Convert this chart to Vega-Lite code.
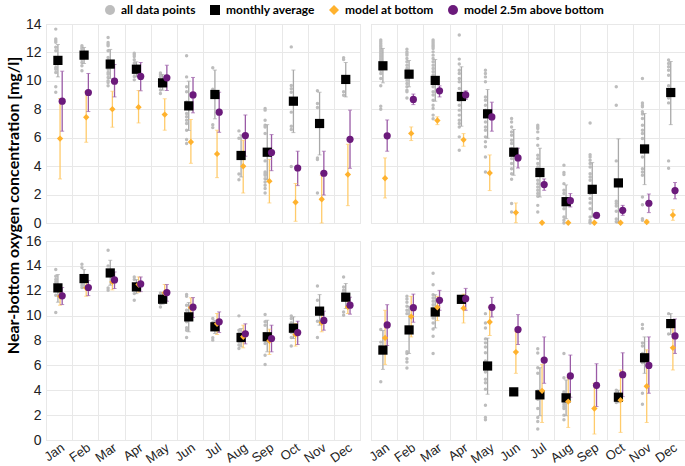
{
"$schema":"https://vega.github.io/schema/vega-lite/v6.json",
"padding":{"left":4,"top":4,"right":2,"bottom":0},
"background":"#ffffff",
"bounds":"flush",
"columns":2,
"spacing":{"row":18,"column":11},
"config":{
 "font":"Liberation Sans",
 "view":{"stroke":"#d6d6d6","strokeWidth":1},
 "axis":{"gridColor":"#e8e8e8","gridWidth":1,"ticks":false,"domain":false,"labelColor":"#222222","labelFontSize":14,"labelFont":"Liberation Sans"},
 "legend":{"orient":"none","legendX":58,"legendY":-20,"direction":"horizontal","labelFont":"Lato","labelFontWeight":"bold","labelFontSize":12,"labelColor":"#000000","columnPadding":13,"labelOffset":5,"symbolStrokeWidth":0}
},
"datasets":{
"g":[
{"p":"a","m":"Jan","v":13.64},{"p":"a","m":"Jan","v":12.94},{"p":"a","m":"Jan","v":12.82},{"p":"a","m":"Jan","v":12.71},{"p":"a","m":"Jan","v":12.36},{"p":"a","m":"Jan","v":12.12},{"p":"a","m":"Jan","v":11.65},{"p":"a","m":"Jan","v":11.29},{"p":"a","m":"Jan","v":11.18},{"p":"a","m":"Jan","v":10.94},{"p":"a","m":"Jan","v":10.82},{"p":"a","m":"Jan","v":10.59},{"p":"a","m":"Jan","v":9.58},{"p":"a","m":"Jan","v":9.2},
{"p":"a","m":"Feb","v":12.47},{"p":"a","m":"Feb","v":12.35},{"p":"a","m":"Feb","v":12.24},{"p":"a","m":"Feb","v":11.52},{"p":"a","m":"Feb","v":11.29},{"p":"a","m":"Feb","v":11.06},{"p":"a","m":"Feb","v":10.71},
{"p":"a","m":"Mar","v":13.05},{"p":"a","m":"Mar","v":12.7},{"p":"a","m":"Mar","v":12.58},{"p":"a","m":"Mar","v":12.47},{"p":"a","m":"Mar","v":12.12},{"p":"a","m":"Mar","v":11.65},{"p":"a","m":"Mar","v":11.41},{"p":"a","m":"Mar","v":10.82},{"p":"a","m":"Mar","v":10.59},{"p":"a","m":"Mar","v":10.47},{"p":"a","m":"Mar","v":10.24},{"p":"a","m":"Mar","v":10.0},{"p":"a","m":"Mar","v":9.88},{"p":"a","m":"Mar","v":9.65},
{"p":"a","m":"Apr","v":11.95},{"p":"a","m":"Apr","v":11.83},{"p":"a","m":"Apr","v":11.71},{"p":"a","m":"Apr","v":11.48},{"p":"a","m":"Apr","v":11.25},{"p":"a","m":"Apr","v":11.01},{"p":"a","m":"Apr","v":10.55},{"p":"a","m":"Apr","v":10.31},{"p":"a","m":"Apr","v":10.07},
{"p":"a","m":"May","v":10.55},{"p":"a","m":"May","v":10.43},{"p":"a","m":"May","v":10.31},{"p":"a","m":"May","v":9.84},{"p":"a","m":"May","v":9.61},{"p":"a","m":"May","v":9.35},{"p":"a","m":"May","v":9.11},
{"p":"a","m":"Jun","v":11.76},{"p":"a","m":"Jun","v":10.28},{"p":"a","m":"Jun","v":9.58},{"p":"a","m":"Jun","v":9.23},{"p":"a","m":"Jun","v":8.52},{"p":"a","m":"Jun","v":7.7},{"p":"a","m":"Jun","v":7.47},{"p":"a","m":"Jun","v":7.23},{"p":"a","m":"Jun","v":7.0},{"p":"a","m":"Jun","v":6.53},{"p":"a","m":"Jun","v":5.87},{"p":"a","m":"Jun","v":5.59},
{"p":"a","m":"Jul","v":10.92},{"p":"a","m":"Jul","v":9.41},{"p":"a","m":"Jul","v":6.92},{"p":"a","m":"Jul","v":6.71},
{"p":"a","m":"Aug","v":6.48},{"p":"a","m":"Aug","v":5.96},{"p":"a","m":"Aug","v":3.45},{"p":"a","m":"Aug","v":3.05},
{"p":"a","m":"Sep","v":8.05},{"p":"a","m":"Sep","v":7.94},{"p":"a","m":"Sep","v":7.23},{"p":"a","m":"Sep","v":6.88},{"p":"a","m":"Sep","v":6.76},{"p":"a","m":"Sep","v":6.29},{"p":"a","m":"Sep","v":4.37},{"p":"a","m":"Sep","v":3.59},{"p":"a","m":"Sep","v":3.47},{"p":"a","m":"Sep","v":3.36},{"p":"a","m":"Sep","v":3.12},{"p":"a","m":"Sep","v":2.89},{"p":"a","m":"Sep","v":2.65},{"p":"a","m":"Sep","v":2.42},{"p":"a","m":"Sep","v":2.11},
{"p":"a","m":"Oct","v":12.39},{"p":"a","m":"Oct","v":9.67},{"p":"a","m":"Oct","v":9.44},{"p":"a","m":"Oct","v":9.2},{"p":"a","m":"Oct","v":7.8},{"p":"a","m":"Oct","v":6.81},{"p":"a","m":"Oct","v":6.58},{"p":"a","m":"Oct","v":3.97},
{"p":"a","m":"Nov","v":9.3},{"p":"a","m":"Nov","v":8.41},{"p":"a","m":"Nov","v":8.13},{"p":"a","m":"Nov","v":7.16},{"p":"a","m":"Nov","v":4.58},{"p":"a","m":"Nov","v":4.46},{"p":"a","m":"Nov","v":2.11},
{"p":"a","m":"Dec","v":11.62},{"p":"a","m":"Dec","v":11.5},{"p":"a","m":"Dec","v":9.23},{"p":"a","m":"Dec","v":8.99},
{"p":"b","m":"Jan","v":12.87},{"p":"b","m":"Jan","v":12.75},{"p":"b","m":"Jan","v":12.63},{"p":"b","m":"Jan","v":12.51},{"p":"b","m":"Jan","v":12.4},{"p":"b","m":"Jan","v":12.28},{"p":"b","m":"Jan","v":12.16},{"p":"b","m":"Jan","v":12.04},{"p":"b","m":"Jan","v":11.93},{"p":"b","m":"Jan","v":11.81},{"p":"b","m":"Jan","v":11.69},{"p":"b","m":"Jan","v":11.57},{"p":"b","m":"Jan","v":11.46},{"p":"b","m":"Jan","v":11.34},{"p":"b","m":"Jan","v":11.22},{"p":"b","m":"Jan","v":10.99},{"p":"b","m":"Jan","v":10.87},{"p":"b","m":"Jan","v":10.75},{"p":"b","m":"Jan","v":10.52},{"p":"b","m":"Jan","v":10.17},{"p":"b","m":"Jan","v":9.65},{"p":"b","m":"Jan","v":8.22},{"p":"b","m":"Jan","v":8.0},
{"p":"b","m":"Feb","v":12.23},{"p":"b","m":"Feb","v":12.04},{"p":"b","m":"Feb","v":11.93},{"p":"b","m":"Feb","v":11.81},{"p":"b","m":"Feb","v":11.57},{"p":"b","m":"Feb","v":11.34},{"p":"b","m":"Feb","v":11.1},{"p":"b","m":"Feb","v":10.87},{"p":"b","m":"Feb","v":10.75},{"p":"b","m":"Feb","v":10.52},{"p":"b","m":"Feb","v":10.28},{"p":"b","m":"Feb","v":10.05},{"p":"b","m":"Feb","v":9.81},{"p":"b","m":"Feb","v":9.58},{"p":"b","m":"Feb","v":9.34},{"p":"b","m":"Feb","v":9.23},{"p":"b","m":"Feb","v":8.8},
{"p":"b","m":"Mar","v":12.87},{"p":"b","m":"Mar","v":12.75},{"p":"b","m":"Mar","v":12.63},{"p":"b","m":"Mar","v":12.51},{"p":"b","m":"Mar","v":12.4},{"p":"b","m":"Mar","v":12.28},{"p":"b","m":"Mar","v":12.04},{"p":"b","m":"Mar","v":11.81},{"p":"b","m":"Mar","v":11.57},{"p":"b","m":"Mar","v":11.34},{"p":"b","m":"Mar","v":11.1},{"p":"b","m":"Mar","v":10.87},{"p":"b","m":"Mar","v":10.64},{"p":"b","m":"Mar","v":10.41},{"p":"b","m":"Mar","v":10.17},{"p":"b","m":"Mar","v":9.94},{"p":"b","m":"Mar","v":9.58},{"p":"b","m":"Mar","v":9.23},{"p":"b","m":"Mar","v":9.0},{"p":"b","m":"Mar","v":8.64},{"p":"b","m":"Mar","v":8.29},{"p":"b","m":"Mar","v":8.06},{"p":"b","m":"Mar","v":7.59},{"p":"b","m":"Mar","v":7.33},
{"p":"b","m":"Apr","v":13.22},{"p":"b","m":"Apr","v":11.53},{"p":"b","m":"Apr","v":11.18},{"p":"b","m":"Apr","v":10.75},{"p":"b","m":"Apr","v":10.52},{"p":"b","m":"Apr","v":10.17},{"p":"b","m":"Apr","v":9.94},{"p":"b","m":"Apr","v":9.46},{"p":"b","m":"Apr","v":9.11},{"p":"b","m":"Apr","v":8.64},{"p":"b","m":"Apr","v":8.29},{"p":"b","m":"Apr","v":7.94},{"p":"b","m":"Apr","v":7.59},{"p":"b","m":"Apr","v":7.23},{"p":"b","m":"Apr","v":7.0},{"p":"b","m":"Apr","v":6.76},{"p":"b","m":"Apr","v":6.06},{"p":"b","m":"Apr","v":5.12},
{"p":"b","m":"May","v":10.75},{"p":"b","m":"May","v":10.52},{"p":"b","m":"May","v":10.28},{"p":"b","m":"May","v":9.94},{"p":"b","m":"May","v":8.87},{"p":"b","m":"May","v":8.64},{"p":"b","m":"May","v":8.29},{"p":"b","m":"May","v":7.94},{"p":"b","m":"May","v":7.47},{"p":"b","m":"May","v":7.11},{"p":"b","m":"May","v":6.76},{"p":"b","m":"May","v":6.53},{"p":"b","m":"May","v":6.06},{"p":"b","m":"May","v":5.71},{"p":"b","m":"May","v":5.36},{"p":"b","m":"May","v":4.65},{"p":"b","m":"May","v":3.59},
{"p":"b","m":"Jun","v":7.35},{"p":"b","m":"Jun","v":7.11},{"p":"b","m":"Jun","v":6.76},{"p":"b","m":"Jun","v":6.41},{"p":"b","m":"Jun","v":6.17},{"p":"b","m":"Jun","v":5.82},{"p":"b","m":"Jun","v":5.59},{"p":"b","m":"Jun","v":5.24},{"p":"b","m":"Jun","v":4.88},{"p":"b","m":"Jun","v":4.53},{"p":"b","m":"Jun","v":4.18},{"p":"b","m":"Jun","v":3.82},{"p":"b","m":"Jun","v":3.47},{"p":"b","m":"Jun","v":3.08},{"p":"b","m":"Jun","v":1.37},{"p":"b","m":"Jun","v":0.78},
{"p":"b","m":"Jul","v":6.88},{"p":"b","m":"Jul","v":6.76},{"p":"b","m":"Jul","v":6.65},{"p":"b","m":"Jul","v":6.41},{"p":"b","m":"Jul","v":5.94},{"p":"b","m":"Jul","v":5.47},{"p":"b","m":"Jul","v":4.77},{"p":"b","m":"Jul","v":4.53},{"p":"b","m":"Jul","v":4.18},{"p":"b","m":"Jul","v":3.94},{"p":"b","m":"Jul","v":3.71},{"p":"b","m":"Jul","v":3.36},{"p":"b","m":"Jul","v":3.0},{"p":"b","m":"Jul","v":2.77},{"p":"b","m":"Jul","v":2.54},{"p":"b","m":"Jul","v":2.3},{"p":"b","m":"Jul","v":2.07},{"p":"b","m":"Jul","v":1.88},{"p":"b","m":"Jul","v":1.24},{"p":"b","m":"Jul","v":0.78},
{"p":"b","m":"Aug","v":4.06},{"p":"b","m":"Aug","v":3.55},{"p":"b","m":"Aug","v":3.41},{"p":"b","m":"Aug","v":2.77},{"p":"b","m":"Aug","v":2.3},{"p":"b","m":"Aug","v":2.07},{"p":"b","m":"Aug","v":1.72},{"p":"b","m":"Aug","v":1.48},{"p":"b","m":"Aug","v":1.24},{"p":"b","m":"Aug","v":1.01},{"p":"b","m":"Aug","v":0.42},{"p":"b","m":"Aug","v":0.19},{"p":"b","m":"Aug","v":0.0},
{"p":"b","m":"Sep","v":7.04},{"p":"b","m":"Sep","v":4.81},{"p":"b","m":"Sep","v":4.65},{"p":"b","m":"Sep","v":4.41},{"p":"b","m":"Sep","v":4.18},{"p":"b","m":"Sep","v":3.94},{"p":"b","m":"Sep","v":3.47},{"p":"b","m":"Sep","v":3.24},{"p":"b","m":"Sep","v":3.0},{"p":"b","m":"Sep","v":2.07},{"p":"b","m":"Sep","v":1.72},{"p":"b","m":"Sep","v":1.41},{"p":"b","m":"Sep","v":1.01},{"p":"b","m":"Sep","v":0.42},{"p":"b","m":"Sep","v":0.19},{"p":"b","m":"Sep","v":0.07},{"p":"b","m":"Sep","v":0.0},
{"p":"b","m":"Oct","v":9.58},{"p":"b","m":"Oct","v":8.29},{"p":"b","m":"Oct","v":4.37},{"p":"b","m":"Oct","v":1.53},{"p":"b","m":"Oct","v":1.37},{"p":"b","m":"Oct","v":1.2},{"p":"b","m":"Oct","v":0.83},{"p":"b","m":"Oct","v":0.28},{"p":"b","m":"Oct","v":0.09},
{"p":"b","m":"Nov","v":10.17},{"p":"b","m":"Nov","v":8.45},{"p":"b","m":"Nov","v":8.29},{"p":"b","m":"Nov","v":8.17},{"p":"b","m":"Nov","v":7.82},{"p":"b","m":"Nov","v":7.66},{"p":"b","m":"Nov","v":7.35},{"p":"b","m":"Nov","v":6.88},{"p":"b","m":"Nov","v":6.53},{"p":"b","m":"Nov","v":6.29},{"p":"b","m":"Nov","v":5.94},{"p":"b","m":"Nov","v":5.36},{"p":"b","m":"Nov","v":5.0},{"p":"b","m":"Nov","v":4.65},{"p":"b","m":"Nov","v":3.82},{"p":"b","m":"Nov","v":3.59},{"p":"b","m":"Nov","v":3.36},{"p":"b","m":"Nov","v":1.83},{"p":"b","m":"Nov","v":1.29},{"p":"b","m":"Nov","v":0.3},{"p":"b","m":"Nov","v":0.19},
{"p":"b","m":"Dec","v":11.46},{"p":"b","m":"Dec","v":11.22},{"p":"b","m":"Dec","v":10.99},{"p":"b","m":"Dec","v":10.75},{"p":"b","m":"Dec","v":10.4},{"p":"b","m":"Dec","v":9.65},{"p":"b","m":"Dec","v":8.8},{"p":"b","m":"Dec","v":8.45},{"p":"b","m":"Dec","v":4.37},{"p":"b","m":"Dec","v":3.85},
{"p":"c","m":"Jan","v":13.7},{"p":"c","m":"Jan","v":13.17},{"p":"c","m":"Jan","v":12.9},{"p":"c","m":"Jan","v":12.71},{"p":"c","m":"Jan","v":12.04},{"p":"c","m":"Jan","v":11.64},{"p":"c","m":"Jan","v":10.25},
{"p":"c","m":"Feb","v":14.13},{"p":"c","m":"Feb","v":13.86},{"p":"c","m":"Feb","v":12.66},{"p":"c","m":"Feb","v":12.44},{"p":"c","m":"Feb","v":12.26},
{"p":"c","m":"Mar","v":15.25},{"p":"c","m":"Mar","v":14.0},{"p":"c","m":"Mar","v":13.62},{"p":"c","m":"Mar","v":12.23},{"p":"c","m":"Mar","v":12.04},
{"p":"c","m":"Apr","v":13.11},{"p":"c","m":"Apr","v":12.9},{"p":"c","m":"Apr","v":12.36},{"p":"c","m":"Apr","v":11.77},{"p":"c","m":"Apr","v":11.24},
{"p":"c","m":"May","v":11.83},{"p":"c","m":"May","v":11.56},{"p":"c","m":"May","v":11.24},{"p":"c","m":"May","v":10.97},{"p":"c","m":"May","v":10.7},
{"p":"c","m":"Jun","v":11.69},{"p":"c","m":"Jun","v":11.56},{"p":"c","m":"Jun","v":10.84},{"p":"c","m":"Jun","v":10.44},{"p":"c","m":"Jun","v":9.69},{"p":"c","m":"Jun","v":9.5},{"p":"c","m":"Jun","v":9.02},{"p":"c","m":"Jun","v":8.83},{"p":"c","m":"Jun","v":8.24},
{"p":"c","m":"Jul","v":9.77},{"p":"c","m":"Jul","v":9.45},{"p":"c","m":"Jul","v":8.96},{"p":"c","m":"Jul","v":8.22},{"p":"c","m":"Jul","v":8.03},
{"p":"c","m":"Aug","v":9.98},{"p":"c","m":"Aug","v":8.83},{"p":"c","m":"Aug","v":8.56},{"p":"c","m":"Aug","v":7.89},{"p":"c","m":"Aug","v":7.63},{"p":"c","m":"Aug","v":7.36},
{"p":"c","m":"Sep","v":10.09},{"p":"c","m":"Sep","v":9.5},{"p":"c","m":"Sep","v":9.23},{"p":"c","m":"Sep","v":8.56},{"p":"c","m":"Sep","v":8.03},{"p":"c","m":"Sep","v":7.76},{"p":"c","m":"Sep","v":6.82},{"p":"c","m":"Sep","v":6.07},
{"p":"c","m":"Oct","v":9.98},{"p":"c","m":"Oct","v":9.77},{"p":"c","m":"Oct","v":9.42},{"p":"c","m":"Oct","v":8.96},{"p":"c","m":"Oct","v":8.64},{"p":"c","m":"Oct","v":8.24},{"p":"c","m":"Oct","v":7.55},
{"p":"c","m":"Nov","v":12.39},{"p":"c","m":"Nov","v":11.24},{"p":"c","m":"Nov","v":9.55},{"p":"c","m":"Nov","v":8.24},
{"p":"c","m":"Dec","v":13.11},{"p":"c","m":"Dec","v":12.31},{"p":"c","m":"Dec","v":12.04},{"p":"c","m":"Dec","v":11.91},{"p":"c","m":"Dec","v":10.3},{"p":"c","m":"Dec","v":10.03},
{"p":"d","m":"Jan","v":8.88},{"p":"d","m":"Jan","v":7.87},{"p":"d","m":"Jan","v":7.55},{"p":"d","m":"Jan","v":4.69},
{"p":"d","m":"Feb","v":11.55},{"p":"d","m":"Feb","v":11.33},{"p":"d","m":"Feb","v":11.07},{"p":"d","m":"Feb","v":10.75},{"p":"d","m":"Feb","v":10.43},{"p":"d","m":"Feb","v":10.16},{"p":"d","m":"Feb","v":7.09},{"p":"d","m":"Feb","v":6.96},{"p":"d","m":"Feb","v":6.53},{"p":"d","m":"Feb","v":6.27},{"p":"d","m":"Feb","v":5.79},
{"p":"d","m":"Mar","v":13.41},{"p":"d","m":"Mar","v":12.48},{"p":"d","m":"Mar","v":11.68},{"p":"d","m":"Mar","v":11.41},{"p":"d","m":"Mar","v":11.15},{"p":"d","m":"Mar","v":10.88},{"p":"d","m":"Mar","v":10.61},{"p":"d","m":"Mar","v":10.21},{"p":"d","m":"Mar","v":9.81},{"p":"d","m":"Mar","v":9.41},{"p":"d","m":"Mar","v":8.93},{"p":"d","m":"Mar","v":8.35},{"p":"d","m":"Mar","v":6.96},
{"p":"d","m":"Apr","v":11.31},
{"p":"d","m":"May","v":10.16},{"p":"d","m":"May","v":9.41},{"p":"d","m":"May","v":9.01},{"p":"d","m":"May","v":8.13},{"p":"d","m":"May","v":7.81},{"p":"d","m":"May","v":7.47},{"p":"d","m":"May","v":7.01},{"p":"d","m":"May","v":6.35},{"p":"d","m":"May","v":6.08},{"p":"d","m":"May","v":5.47},{"p":"d","m":"May","v":4.88},{"p":"d","m":"May","v":4.61},{"p":"d","m":"May","v":4.08},{"p":"d","m":"May","v":2.8},{"p":"d","m":"May","v":1.81},{"p":"d","m":"May","v":1.63},
{"p":"d","m":"Jun","v":3.87},
{"p":"d","m":"Jul","v":7.33},{"p":"d","m":"Jul","v":6.99},{"p":"d","m":"Jul","v":5.81},{"p":"d","m":"Jul","v":5.36},{"p":"d","m":"Jul","v":3.95},{"p":"d","m":"Jul","v":3.81},{"p":"d","m":"Jul","v":3.28},{"p":"d","m":"Jul","v":2.53},{"p":"d","m":"Jul","v":1.81},{"p":"d","m":"Jul","v":1.49},{"p":"d","m":"Jul","v":0.88},
{"p":"d","m":"Aug","v":6.96},{"p":"d","m":"Aug","v":5.01},{"p":"d","m":"Aug","v":3.89},{"p":"d","m":"Aug","v":3.76},{"p":"d","m":"Aug","v":3.07},{"p":"d","m":"Aug","v":2.88},{"p":"d","m":"Aug","v":2.69},{"p":"d","m":"Aug","v":2.53},{"p":"d","m":"Aug","v":2.0},{"p":"d","m":"Aug","v":1.63},
{"p":"d","m":"Oct","v":4.0},{"p":"d","m":"Oct","v":3.81},{"p":"d","m":"Oct","v":3.01},
{"p":"d","m":"Nov","v":9.28},{"p":"d","m":"Nov","v":8.96},{"p":"d","m":"Nov","v":7.81},{"p":"d","m":"Nov","v":7.55},{"p":"d","m":"Nov","v":6.96},{"p":"d","m":"Nov","v":6.21},{"p":"d","m":"Nov","v":3.76},{"p":"d","m":"Nov","v":2.88},
{"p":"d","m":"Dec","v":10.16},{"p":"d","m":"Dec","v":8.53}
],
"s":[
{"p":"a","m":"Jan","s":"monthly average","v":11.44,"lo":10.28,"hi":12.56},{"p":"a","m":"Jan","s":"model at bottom","v":5.94,"lo":3.1,"hi":8.76},{"p":"a","m":"Jan","s":"model 2.5m above bottom","v":8.57,"lo":6.46,"hi":10.68},
{"p":"a","m":"Feb","s":"monthly average","v":11.81,"lo":11.22,"hi":12.35},{"p":"a","m":"Feb","s":"model at bottom","v":7.44,"lo":5.68,"hi":9.23},{"p":"a","m":"Feb","s":"model 2.5m above bottom","v":9.18,"lo":7.84,"hi":10.52},
{"p":"a","m":"Mar","s":"monthly average","v":11.18,"lo":10.16,"hi":12.21},{"p":"a","m":"Mar","s":"model at bottom","v":8.01,"lo":6.74,"hi":9.27},{"p":"a","m":"Mar","s":"model 2.5m above bottom","v":9.98,"lo":8.87,"hi":11.15},
{"p":"a","m":"Apr","s":"monthly average","v":10.82,"lo":10.28,"hi":11.34},{"p":"a","m":"Apr","s":"model at bottom","v":8.15,"lo":7.04,"hi":9.32},{"p":"a","m":"Apr","s":"model 2.5m above bottom","v":10.31,"lo":9.3,"hi":11.29},
{"p":"a","m":"May","s":"monthly average","v":9.86,"lo":9.34,"hi":10.45},{"p":"a","m":"May","s":"model at bottom","v":7.63,"lo":6.53,"hi":8.74},{"p":"a","m":"May","s":"model 2.5m above bottom","v":10.21,"lo":9.32,"hi":11.1},
{"p":"a","m":"Jun","s":"monthly average","v":8.24,"lo":6.51,"hi":9.98},{"p":"a","m":"Jun","s":"model at bottom","v":5.7,"lo":4.2,"hi":7.28},{"p":"a","m":"Jun","s":"model 2.5m above bottom","v":9.01,"lo":7.75,"hi":10.24},
{"p":"a","m":"Jul","s":"monthly average","v":9.04,"lo":7.33,"hi":10.76},{"p":"a","m":"Jul","s":"model at bottom","v":4.86,"lo":3.19,"hi":6.53},{"p":"a","m":"Jul","s":"model 2.5m above bottom","v":7.8,"lo":6.38,"hi":9.2},
{"p":"a","m":"Aug","s":"monthly average","v":4.75,"lo":3.24,"hi":6.2},{"p":"a","m":"Aug","s":"model at bottom","v":3.99,"lo":2.11,"hi":5.82},{"p":"a","m":"Aug","s":"model 2.5m above bottom","v":6.15,"lo":4.7,"hi":7.6},
{"p":"a","m":"Sep","s":"monthly average","v":4.98,"lo":3.05,"hi":6.92},{"p":"a","m":"Sep","s":"model at bottom","v":2.94,"lo":1.41,"hi":4.47},{"p":"a","m":"Sep","s":"model 2.5m above bottom","v":4.96,"lo":3.68,"hi":6.22},
{"p":"a","m":"Oct","s":"monthly average","v":8.57,"lo":6.36,"hi":10.76},{"p":"a","m":"Oct","s":"model at bottom","v":1.46,"lo":0.12,"hi":2.78},{"p":"a","m":"Oct","s":"model 2.5m above bottom","v":3.87,"lo":2.63,"hi":5.05},
{"p":"a","m":"Nov","s":"monthly average","v":7.0,"lo":4.79,"hi":9.2},{"p":"a","m":"Nov","s":"model at bottom","v":1.67,"lo":0.0,"hi":3.36},{"p":"a","m":"Nov","s":"model 2.5m above bottom","v":3.5,"lo":1.97,"hi":5.05},
{"p":"a","m":"Dec","s":"monthly average","v":10.1,"lo":8.87,"hi":11.29},{"p":"a","m":"Dec","s":"model at bottom","v":3.41,"lo":1.22,"hi":5.54},{"p":"a","m":"Dec","s":"model 2.5m above bottom","v":5.89,"lo":3.85,"hi":7.94},
{"p":"b","m":"Jan","s":"monthly average","v":11.06,"lo":9.86,"hi":12.28},{"p":"b","m":"Jan","s":"model at bottom","v":3.15,"lo":1.76,"hi":4.58},{"p":"b","m":"Jan","s":"model 2.5m above bottom","v":6.13,"lo":5.05,"hi":7.25},
{"p":"b","m":"Feb","s":"monthly average","v":10.47,"lo":9.58,"hi":11.43},{"p":"b","m":"Feb","s":"model at bottom","v":6.3,"lo":5.8,"hi":6.76},{"p":"b","m":"Feb","s":"model 2.5m above bottom","v":8.69,"lo":8.33,"hi":9.07},
{"p":"b","m":"Mar","s":"monthly average","v":10.03,"lo":8.57,"hi":11.5},{"p":"b","m":"Mar","s":"model at bottom","v":7.21,"lo":6.92,"hi":7.47},{"p":"b","m":"Mar","s":"model 2.5m above bottom","v":9.3,"lo":8.87,"hi":9.65},
{"p":"b","m":"Apr","s":"monthly average","v":8.9,"lo":6.81,"hi":10.99},{"p":"b","m":"Apr","s":"model at bottom","v":5.85,"lo":5.4,"hi":6.29},{"p":"b","m":"Apr","s":"model 2.5m above bottom","v":9.01,"lo":8.69,"hi":9.3},
{"p":"b","m":"May","s":"monthly average","v":7.68,"lo":5.96,"hi":9.39},{"p":"b","m":"May","s":"model at bottom","v":3.52,"lo":2.28,"hi":4.79},{"p":"b","m":"May","s":"model 2.5m above bottom","v":7.46,"lo":6.46,"hi":8.5},
{"p":"b","m":"Jun","s":"monthly average","v":4.98,"lo":3.36,"hi":6.58},{"p":"b","m":"Jun","s":"model at bottom","v":0.73,"lo":0.02,"hi":1.41},{"p":"b","m":"Jun","s":"model 2.5m above bottom","v":4.58,"lo":3.87,"hi":5.26},
{"p":"b","m":"Jul","s":"monthly average","v":3.55,"lo":1.83,"hi":5.26},{"p":"b","m":"Jul","s":"model at bottom","v":0.02},{"p":"b","m":"Jul","s":"model 2.5m above bottom","v":2.7,"lo":2.3,"hi":3.1},
{"p":"b","m":"Aug","s":"monthly average","v":1.5,"lo":0.3,"hi":2.68},{"p":"b","m":"Aug","s":"model at bottom","v":0.02},{"p":"b","m":"Aug","s":"model 2.5m above bottom","v":1.57,"lo":1.13,"hi":2.07},
{"p":"b","m":"Sep","s":"monthly average","v":2.37,"lo":0.42,"hi":4.25},{"p":"b","m":"Sep","s":"model at bottom","v":0.02},{"p":"b","m":"Sep","s":"model 2.5m above bottom","v":0.54},
{"p":"b","m":"Oct","s":"monthly average","v":2.82,"lo":0.0,"hi":5.92},{"p":"b","m":"Oct","s":"model at bottom","v":0.02},{"p":"b","m":"Oct","s":"model 2.5m above bottom","v":0.89,"lo":0.54,"hi":1.24},
{"p":"b","m":"Nov","s":"monthly average","v":5.21,"lo":2.7,"hi":7.7},{"p":"b","m":"Nov","s":"model at bottom","v":0.07,"lo":0.0,"hi":0.21},{"p":"b","m":"Nov","s":"model 2.5m above bottom","v":1.39,"lo":0.73,"hi":2.04},
{"p":"b","m":"Dec","s":"monthly average","v":9.18,"lo":6.92,"hi":11.36},{"p":"b","m":"Dec","s":"model at bottom","v":0.56,"lo":0.19,"hi":0.94},{"p":"b","m":"Dec","s":"model 2.5m above bottom","v":2.28,"lo":1.7,"hi":2.85},
{"p":"c","m":"Jan","s":"monthly average","v":12.23,"lo":11.08,"hi":13.3},{"p":"c","m":"Jan","s":"model at bottom","v":11.56,"lo":10.84,"hi":12.23},{"p":"c","m":"Jan","s":"model 2.5m above bottom","v":11.59,"lo":10.89,"hi":12.26},
{"p":"c","m":"Feb","s":"monthly average","v":12.98,"lo":12.23,"hi":13.7},{"p":"c","m":"Feb","s":"model at bottom","v":12.23,"lo":11.56,"hi":12.84},{"p":"c","m":"Feb","s":"model 2.5m above bottom","v":12.26,"lo":11.61,"hi":12.82},
{"p":"c","m":"Mar","s":"monthly average","v":13.43,"lo":12.44,"hi":14.45},{"p":"c","m":"Mar","s":"model at bottom","v":12.71,"lo":12.07,"hi":13.35},{"p":"c","m":"Mar","s":"model 2.5m above bottom","v":12.87,"lo":12.18,"hi":13.51},
{"p":"c","m":"Apr","s":"monthly average","v":12.31,"lo":11.77,"hi":12.9},{"p":"c","m":"Apr","s":"model at bottom","v":12.5,"lo":11.88,"hi":13.11},{"p":"c","m":"Apr","s":"model 2.5m above bottom","v":12.55,"lo":11.93,"hi":13.11},
{"p":"c","m":"May","s":"monthly average","v":11.32,"lo":10.92,"hi":11.83},{"p":"c","m":"May","s":"model at bottom","v":11.83,"lo":11.16,"hi":12.5},{"p":"c","m":"May","s":"model 2.5m above bottom","v":11.85,"lo":11.16,"hi":12.5},
{"p":"c","m":"Jun","s":"monthly average","v":9.9,"lo":8.7,"hi":11.05},{"p":"c","m":"Jun","s":"model at bottom","v":10.65,"lo":9.85,"hi":11.43},{"p":"c","m":"Jun","s":"model 2.5m above bottom","v":10.68,"lo":9.85,"hi":11.45},
{"p":"c","m":"Jul","s":"monthly average","v":9.1,"lo":8.56,"hi":9.63},{"p":"c","m":"Jul","s":"model at bottom","v":9.34,"lo":8.48,"hi":10.17},{"p":"c","m":"Jul","s":"model 2.5m above bottom","v":9.5,"lo":8.64,"hi":10.3},
{"p":"c","m":"Aug","s":"monthly average","v":8.24,"lo":7.49,"hi":8.96},{"p":"c","m":"Aug","s":"model at bottom","v":8.3,"lo":7.41,"hi":9.23},{"p":"c","m":"Aug","s":"model 2.5m above bottom","v":8.54,"lo":7.73,"hi":9.34},
{"p":"c","m":"Sep","s":"monthly average","v":8.3,"lo":7.09,"hi":9.63},{"p":"c","m":"Sep","s":"model at bottom","v":7.97,"lo":6.88,"hi":8.91},{"p":"c","m":"Sep","s":"model 2.5m above bottom","v":8.16,"lo":7.09,"hi":9.23},
{"p":"c","m":"Oct","s":"monthly average","v":8.99,"lo":8.16,"hi":9.9},{"p":"c","m":"Oct","s":"model at bottom","v":8.48,"lo":7.55,"hi":9.37},{"p":"c","m":"Oct","s":"model 2.5m above bottom","v":8.64,"lo":7.68,"hi":9.55},
{"p":"c","m":"Nov","s":"monthly average","v":10.36,"lo":9.23,"hi":11.69},{"p":"c","m":"Nov","s":"model at bottom","v":9.45,"lo":8.7,"hi":10.17},{"p":"c","m":"Nov","s":"model 2.5m above bottom","v":9.61,"lo":8.83,"hi":10.36},
{"p":"c","m":"Dec","s":"monthly average","v":11.48,"lo":10.57,"hi":12.58},{"p":"c","m":"Dec","s":"model at bottom","v":10.7,"lo":10.17,"hi":11.43},{"p":"c","m":"Dec","s":"model 2.5m above bottom","v":10.84,"lo":10.12,"hi":11.48},
{"p":"d","m":"Jan","s":"monthly average","v":7.23,"lo":5.68,"hi":8.8},{"p":"d","m":"Jan","s":"model at bottom","v":8.21,"lo":6.08,"hi":10.43},{"p":"d","m":"Jan","s":"model 2.5m above bottom","v":9.25,"lo":7.6,"hi":10.88},
{"p":"d","m":"Feb","s":"monthly average","v":8.85,"lo":6.96,"hi":10.75},{"p":"d","m":"Feb","s":"model at bottom","v":9.92,"lo":8.29,"hi":11.55},{"p":"d","m":"Feb","s":"model 2.5m above bottom","v":10.64,"lo":9.47,"hi":11.73},
{"p":"d","m":"Mar","s":"monthly average","v":10.29,"lo":9.01,"hi":11.68},{"p":"d","m":"Mar","s":"model at bottom","v":10.67,"lo":9.6,"hi":11.55},{"p":"d","m":"Mar","s":"model 2.5m above bottom","v":11.23,"lo":10.43,"hi":12.03},
{"p":"d","m":"Apr","s":"monthly average","v":11.31},{"p":"d","m":"Apr","s":"model at bottom","v":10.59,"lo":9.41,"hi":11.73},{"p":"d","m":"Apr","s":"model 2.5m above bottom","v":11.36,"lo":10.43,"hi":12.19},
{"p":"d","m":"May","s":"monthly average","v":5.95,"lo":3.68,"hi":8.19},{"p":"d","m":"May","s":"model at bottom","v":9.49,"lo":8.4,"hi":10.69},{"p":"d","m":"May","s":"model 2.5m above bottom","v":10.67,"lo":9.89,"hi":11.47},
{"p":"d","m":"Jun","s":"monthly average","v":3.87},{"p":"d","m":"Jun","s":"model at bottom","v":7.07,"lo":5.36,"hi":8.75},{"p":"d","m":"Jun","s":"model 2.5m above bottom","v":8.88,"lo":7.68,"hi":10.08},
{"p":"d","m":"Jul","s":"monthly average","v":3.63,"lo":1.95,"hi":5.81},{"p":"d","m":"Jul","s":"model at bottom","v":3.95,"lo":1.41,"hi":6.08},{"p":"d","m":"Jul","s":"model 2.5m above bottom","v":6.43,"lo":4.56,"hi":8.29},
{"p":"d","m":"Aug","s":"monthly average","v":3.39,"lo":1.95,"hi":4.83},{"p":"d","m":"Aug","s":"model at bottom","v":3.09,"lo":1.01,"hi":5.01},{"p":"d","m":"Aug","s":"model 2.5m above bottom","v":5.15,"lo":3.44,"hi":6.83},
{"p":"d","m":"Sep","s":"model at bottom","v":2.53,"lo":0.48,"hi":4.56},{"p":"d","m":"Sep","s":"model 2.5m above bottom","v":4.4,"lo":2.69,"hi":6.13},
{"p":"d","m":"Oct","s":"monthly average","v":3.44,"lo":3.0,"hi":4.0},{"p":"d","m":"Oct","s":"model at bottom","v":3.2,"lo":0.61,"hi":5.63},{"p":"d","m":"Oct","s":"model 2.5m above bottom","v":5.25,"lo":3.49,"hi":7.01},
{"p":"d","m":"Nov","s":"monthly average","v":6.61,"lo":5.36,"hi":8.29},{"p":"d","m":"Nov","s":"model at bottom","v":4.32,"lo":1.41,"hi":7.25},{"p":"d","m":"Nov","s":"model 2.5m above bottom","v":6.0,"lo":3.76,"hi":8.29},
{"p":"d","m":"Dec","s":"monthly average","v":9.36,"lo":8.48,"hi":10.16},{"p":"d","m":"Dec","s":"model at bottom","v":7.41,"lo":5.63,"hi":9.68},{"p":"d","m":"Dec","s":"model 2.5m above bottom","v":8.37,"lo":6.96,"hi":9.73}
]
},
"concat":[
{
 "width":314,"height":199,
 "encoding":{
  "x":{"field":"m","type":"ordinal","title":null,"scale":{"domain":["Jan","Feb","Mar","Apr","May","Jun","Jul","Aug","Sep","Oct","Nov","Dec"],"paddingInner":0,"paddingOuter":0},"axis":{"labels":false,"grid":true,"tickBand":"extent"}},
  "y":{"field":"v","type":"quantitative","title":"Near-bottom oxygen concentration [mg/l]","scale":{"domain":[0,14],"nice":false},"axis":{"values":[0,2,4,6,8,10,12,14],"labelPadding":5,"titleY":181,"titleFont":"Lato","titleFontSize":16,"titleFontWeight":"bold","titleColor":"#000000","titlePadding":4}}
 },
 "layer":[
  {"data":{"name":"g"},"transform":[{"filter":"datum.p==='a'"}],"mark":{"type":"point","filled":true,"opacity":1,"strokeWidth":0,"size":12},
   "encoding":{"xOffset":{"datum":"all data points","scale":{"domain":["all data points","monthly average","model at bottom","model 2.5m above bottom"],"range":[8.7,19.4],"paddingInner":0,"paddingOuter":0}},
    "color":{"datum":"all data points","title":null,"scale":{"domain":["all data points","monthly average","model at bottom","model 2.5m above bottom"],"range":["#bdbdbd","#000000","#ffb22e","#6b1a7b"]},
     "legend":{"encode":{"symbols":{"update":{"size":{"signal":"datum.label==='all data points' ? 16 : (datum.label==='monthly average' ? 80 : (datum.label==='model at bottom' ? 45 : 60))"}}}}}},
    "shape":{"datum":"all data points","title":null,"scale":{"domain":["all data points","monthly average","model at bottom","model 2.5m above bottom"],"range":["circle","square","diamond","circle"]}}}},
  {"data":{"name":"s"},"transform":[{"filter":"datum.p==='a' && isValid(datum.lo)"}],"mark":{"type":"rule","strokeWidth":1.3},
   "encoding":{"xOffset":{"field":"s","scale":{"domain":["all data points","monthly average","model at bottom","model 2.5m above bottom"],"range":[8.7,19.4],"paddingInner":0,"paddingOuter":0}},
    "y":{"field":"lo","type":"quantitative","title":"Near-bottom oxygen concentration [mg/l]"},"y2":{"field":"hi"},
    "color":{"condition":[{"test":"datum.s==='monthly average'","value":"#a9a9a9"},{"test":"datum.s==='model at bottom'","value":"#ffcb6b"}],"value":"#9a5ba6"}}},
  {"data":{"name":"s"},"transform":[{"filter":"datum.p==='a' && isValid(datum.lo)"},{"fold":["lo","hi"],"as":["k","v"]}],"mark":{"type":"tick","thickness":1,"size":4},
   "encoding":{"xOffset":{"field":"s","scale":{"domain":["all data points","monthly average","model at bottom","model 2.5m above bottom"],"range":[8.7,19.4],"paddingInner":0,"paddingOuter":0}},
    "color":{"condition":[{"test":"datum.s==='monthly average'","value":"#a9a9a9"},{"test":"datum.s==='model at bottom'","value":"#ffcb6b"}],"value":"#9a5ba6"}}},
  {"data":{"name":"s"},"transform":[{"filter":"datum.p==='a'"}],"mark":{"type":"point","filled":true,"opacity":1,"strokeWidth":0},
   "encoding":{"xOffset":{"field":"s","scale":{"domain":["all data points","monthly average","model at bottom","model 2.5m above bottom"],"range":[8.7,19.4],"paddingInner":0,"paddingOuter":0}},
    "color":{"field":"s","title":null},"shape":{"field":"s","title":null},
    "size":{"condition":[{"test":"datum.s==='monthly average'","value":85},{"test":"datum.s==='model at bottom'","value":40}],"value":52}}},
  {"data":{"values":[{"t":"a)"}]},"mark":{"type":"text","align":"center","baseline":"alphabetic","fontSize":18,"fontWeight":"bold","font":"Liberation Sans","color":"#000000"},
   "encoding":{"x":{"datum":"Dec","type":"ordinal"},"y":{"datum":12.56,"type":"quantitative"},"text":{"field":"t"}}}
 ]
},
{
 "width":314,"height":199,
 "encoding":{
  "x":{"field":"m","type":"ordinal","title":null,"scale":{"domain":["Jan","Feb","Mar","Apr","May","Jun","Jul","Aug","Sep","Oct","Nov","Dec"],"paddingInner":0,"paddingOuter":0},"axis":{"labels":false,"grid":true,"tickBand":"extent"}},
  "y":{"field":"v","type":"quantitative","title":null,"scale":{"domain":[0,14],"nice":false},"axis":{"values":[0,2,4,6,8,10,12,14],"labels":false}}
 },
 "layer":[
  {"data":{"name":"g"},"transform":[{"filter":"datum.p==='b'"}],"mark":{"type":"point","filled":true,"opacity":1,"strokeWidth":0,"size":12},
   "encoding":{"xOffset":{"datum":"all data points","scale":{"domain":["all data points","monthly average","model at bottom","gap","model 2.5m above bottom"],"range":[8.7,22.05],"paddingInner":0,"paddingOuter":0}},
    "color":{"datum":"all data points","title":null},"shape":{"datum":"all data points","title":null}}},
  {"data":{"name":"s"},"transform":[{"filter":"datum.p==='b' && isValid(datum.lo)"}],"mark":{"type":"rule","strokeWidth":1.3},
   "encoding":{"xOffset":{"field":"s","scale":{"domain":["all data points","monthly average","model at bottom","gap","model 2.5m above bottom"],"range":[8.7,22.05],"paddingInner":0,"paddingOuter":0}},
    "y":{"field":"lo","type":"quantitative","title":null},"y2":{"field":"hi"},
    "color":{"condition":[{"test":"datum.s==='monthly average'","value":"#a9a9a9"},{"test":"datum.s==='model at bottom'","value":"#ffcb6b"}],"value":"#9a5ba6"}}},
  {"data":{"name":"s"},"transform":[{"filter":"datum.p==='b' && isValid(datum.lo)"},{"fold":["lo","hi"],"as":["k","v"]}],"mark":{"type":"tick","thickness":1,"size":4},
   "encoding":{"xOffset":{"field":"s","scale":{"domain":["all data points","monthly average","model at bottom","gap","model 2.5m above bottom"],"range":[8.7,22.05],"paddingInner":0,"paddingOuter":0}},
    "color":{"condition":[{"test":"datum.s==='monthly average'","value":"#a9a9a9"},{"test":"datum.s==='model at bottom'","value":"#ffcb6b"}],"value":"#9a5ba6"}}},
  {"data":{"name":"s"},"transform":[{"filter":"datum.p==='b'"}],"mark":{"type":"point","filled":true,"opacity":1,"strokeWidth":0},
   "encoding":{"xOffset":{"field":"s","scale":{"domain":["all data points","monthly average","model at bottom","gap","model 2.5m above bottom"],"range":[8.7,22.05],"paddingInner":0,"paddingOuter":0}},
    "color":{"field":"s","title":null},"shape":{"field":"s","title":null},
    "size":{"condition":[{"test":"datum.s==='monthly average'","value":85},{"test":"datum.s==='model at bottom'","value":40}],"value":52}}},
  {"data":{"values":[{"t":"b)"}]},"mark":{"type":"text","align":"center","baseline":"alphabetic","fontSize":18,"fontWeight":"bold","font":"Liberation Sans","color":"#000000"},
   "encoding":{"x":{"datum":"Dec","type":"ordinal"},"y":{"datum":12.56,"type":"quantitative"},"text":{"field":"t"}}}
 ]
},
{
 "width":314,"height":199,
 "encoding":{
  "x":{"field":"m","type":"ordinal","title":null,"scale":{"domain":["Jan","Feb","Mar","Apr","May","Jun","Jul","Aug","Sep","Oct","Nov","Dec"],"paddingInner":0,"paddingOuter":0},"axis":{"labelAngle":-35,"labelFontSize":13,"labelPadding":1,"grid":true,"tickBand":"extent"}},
  "y":{"field":"v","type":"quantitative","title":null,"scale":{"domain":[0,16],"nice":false},"axis":{"values":[0,2,4,6,8,10,12,14,16],"labelPadding":5}}
 },
 "layer":[
  {"data":{"name":"g"},"transform":[{"filter":"datum.p==='c'"}],"mark":{"type":"point","filled":true,"opacity":1,"strokeWidth":0,"size":12},
   "encoding":{"xOffset":{"datum":"all data points","scale":{"domain":["all data points","monthly average","model at bottom","model 2.5m above bottom"],"range":[8.7,19.4],"paddingInner":0,"paddingOuter":0}},
    "color":{"datum":"all data points","title":null},"shape":{"datum":"all data points","title":null}}},
  {"data":{"name":"s"},"transform":[{"filter":"datum.p==='c' && isValid(datum.lo)"}],"mark":{"type":"rule","strokeWidth":1.3},
   "encoding":{"xOffset":{"field":"s","scale":{"domain":["all data points","monthly average","model at bottom","model 2.5m above bottom"],"range":[8.7,19.4],"paddingInner":0,"paddingOuter":0}},
    "y":{"field":"lo","type":"quantitative","title":null},"y2":{"field":"hi"},
    "color":{"condition":[{"test":"datum.s==='monthly average'","value":"#a9a9a9"},{"test":"datum.s==='model at bottom'","value":"#ffcb6b"}],"value":"#9a5ba6"}}},
  {"data":{"name":"s"},"transform":[{"filter":"datum.p==='c' && isValid(datum.lo)"},{"fold":["lo","hi"],"as":["k","v"]}],"mark":{"type":"tick","thickness":1,"size":4},
   "encoding":{"xOffset":{"field":"s","scale":{"domain":["all data points","monthly average","model at bottom","model 2.5m above bottom"],"range":[8.7,19.4],"paddingInner":0,"paddingOuter":0}},
    "color":{"condition":[{"test":"datum.s==='monthly average'","value":"#a9a9a9"},{"test":"datum.s==='model at bottom'","value":"#ffcb6b"}],"value":"#9a5ba6"}}},
  {"data":{"name":"s"},"transform":[{"filter":"datum.p==='c'"}],"mark":{"type":"point","filled":true,"opacity":1,"strokeWidth":0},
   "encoding":{"xOffset":{"field":"s","scale":{"domain":["all data points","monthly average","model at bottom","model 2.5m above bottom"],"range":[8.7,19.4],"paddingInner":0,"paddingOuter":0}},
    "color":{"field":"s","title":null},"shape":{"field":"s","title":null},
    "size":{"condition":[{"test":"datum.s==='monthly average'","value":85},{"test":"datum.s==='model at bottom'","value":40}],"value":52}}},
  {"data":{"values":[{"t":"c)"}]},"mark":{"type":"text","align":"center","baseline":"alphabetic","fontSize":18,"fontWeight":"bold","font":"Liberation Sans","color":"#000000"},
   "encoding":{"x":{"datum":"Dec","type":"ordinal"},"y":{"datum":14.5,"type":"quantitative"},"text":{"field":"t"}}}
 ]
},
{
 "width":314,"height":199,
 "encoding":{
  "x":{"field":"m","type":"ordinal","title":null,"scale":{"domain":["Jan","Feb","Mar","Apr","May","Jun","Jul","Aug","Sep","Oct","Nov","Dec"],"paddingInner":0,"paddingOuter":0},"axis":{"labelAngle":-35,"labelFontSize":13,"labelPadding":1,"grid":true,"tickBand":"extent"}},
  "y":{"field":"v","type":"quantitative","title":null,"scale":{"domain":[0,16],"nice":false},"axis":{"values":[0,2,4,6,8,10,12,14,16],"labels":false}}
 },
 "layer":[
  {"data":{"name":"g"},"transform":[{"filter":"datum.p==='d'"}],"mark":{"type":"point","filled":true,"opacity":1,"strokeWidth":0,"size":12},
   "encoding":{"xOffset":{"datum":"all data points","scale":{"domain":["all data points","monthly average","model at bottom","model 2.5m above bottom"],"range":[8.7,19.4],"paddingInner":0,"paddingOuter":0}},
    "color":{"datum":"all data points","title":null},"shape":{"datum":"all data points","title":null}}},
  {"data":{"name":"s"},"transform":[{"filter":"datum.p==='d' && isValid(datum.lo)"}],"mark":{"type":"rule","strokeWidth":1.3},
   "encoding":{"xOffset":{"field":"s","scale":{"domain":["all data points","monthly average","model at bottom","model 2.5m above bottom"],"range":[8.7,19.4],"paddingInner":0,"paddingOuter":0}},
    "y":{"field":"lo","type":"quantitative","title":null},"y2":{"field":"hi"},
    "color":{"condition":[{"test":"datum.s==='monthly average'","value":"#a9a9a9"},{"test":"datum.s==='model at bottom'","value":"#ffcb6b"}],"value":"#9a5ba6"}}},
  {"data":{"name":"s"},"transform":[{"filter":"datum.p==='d' && isValid(datum.lo)"},{"fold":["lo","hi"],"as":["k","v"]}],"mark":{"type":"tick","thickness":1,"size":4},
   "encoding":{"xOffset":{"field":"s","scale":{"domain":["all data points","monthly average","model at bottom","model 2.5m above bottom"],"range":[8.7,19.4],"paddingInner":0,"paddingOuter":0}},
    "color":{"condition":[{"test":"datum.s==='monthly average'","value":"#a9a9a9"},{"test":"datum.s==='model at bottom'","value":"#ffcb6b"}],"value":"#9a5ba6"}}},
  {"data":{"name":"s"},"transform":[{"filter":"datum.p==='d'"}],"mark":{"type":"point","filled":true,"opacity":1,"strokeWidth":0},
   "encoding":{"xOffset":{"field":"s","scale":{"domain":["all data points","monthly average","model at bottom","model 2.5m above bottom"],"range":[8.7,19.4],"paddingInner":0,"paddingOuter":0}},
    "color":{"field":"s","title":null},"shape":{"field":"s","title":null},
    "size":{"condition":[{"test":"datum.s==='monthly average'","value":85},{"test":"datum.s==='model at bottom'","value":40}],"value":52}}},
  {"data":{"values":[{"t":"d)"}]},"mark":{"type":"text","align":"center","baseline":"alphabetic","fontSize":18,"fontWeight":"bold","font":"Liberation Sans","color":"#000000"},
   "encoding":{"x":{"datum":"Dec","type":"ordinal"},"y":{"datum":14.45,"type":"quantitative"},"text":{"field":"t"}}}
 ]
}
]
}
